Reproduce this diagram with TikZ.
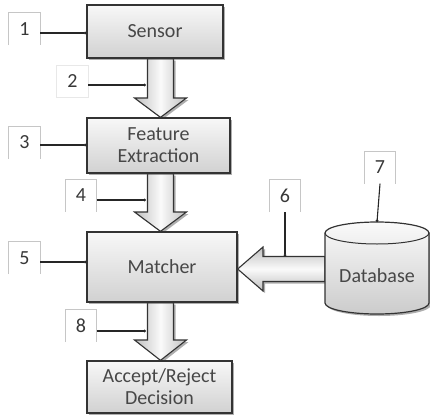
\documentclass[tikz,border=0pt]{standalone}
\usepackage{fontspec}
\setmainfont{Carlito}
\usetikzlibrary{calc,shadows,arrows.meta,backgrounds}

\tikzset{
  bigtext/.style={font=\fontsize{20}{22}\selectfont, text=black!72},
  shade shadow/.style={drop shadow={shadow xshift=2pt, shadow yshift=-2pt, fill=black!70, opacity=0.45}},
  stage/.style={bigtext, draw=black!80, line width=1.3pt, top color=gray!6, bottom color=gray!36,
                shade shadow, align=center, inner sep=0pt},
  vflow/.style={draw=black!80, line width=1.1pt, left color=gray!50, right color=gray!50,
                middle color=gray!4, shade shadow, line join=miter},
  hflow/.style={draw=black!80, line width=1.1pt, top color=gray!50, bottom color=gray!50,
                middle color=gray!4, shade shadow, line join=miter},
  tag/.style={bigtext, minimum width=31pt, minimum height=32pt, inner sep=0pt, text=black!78},
  tagframe/.style={draw=gray!45, line width=0.8pt},
  lead/.style={draw=black!85, line width=1.1pt, -{Circle[length=2.6pt]}},
}

% vertical block arrow: centre x, upper node, lower node, y where the head starts
\newcommand\downflow[4]{%
  \draw[vflow] (#1-13,0 |- #2.south) -- (#1-13,#4) -- (#1-26,#4) -- (#1,0 |- #3.north)
    -- (#1+26,#4) -- (#1+13,#4) -- (#1+13,0 |- #2.south) -- cycle;}

\begin{document}
\begin{tikzpicture}[x=1pt,y=-1pt]
  \useasboundingbox (0,0) rectangle (430,415);

  % process boxes
  \node[stage, minimum width=136pt, minimum height=53pt] (sensor) at (155,31.5) {Sensor};
  \node[stage, minimum width=143pt, minimum height=55pt] (feature) at (158.5,145.5) {Feature\\Extraction};
  \node[stage, minimum width=150pt, minimum height=70pt] (matcher) at (162,267) {Matcher};
  \node[stage, minimum width=145pt, minimum height=52pt] (decision) at (159.5,387) {Accept/Reject\\Decision};

  % database cylinder
  \path[shade shadow, top color=gray!4, bottom color=gray!40]
    (325,233) -- (325,303) arc[start angle=180, end angle=0, x radius=52, y radius=11]
    -- (429,233) arc[start angle=0, end angle=-180, x radius=52, y radius=11] -- cycle;
  \draw[black!80, line width=1.2pt]
    (325,233) -- (325,303) arc[start angle=180, end angle=0, x radius=52, y radius=11]
    -- (429,233) arc[start angle=0, end angle=-180, x radius=52, y radius=11];
  \draw[black!80, line width=1pt] (325,233) arc[start angle=180, end angle=0, x radius=52, y radius=11];
  \node[bigtext] (db) at (377,276) {Database};
  \coordinate (dbtop) at (377,222);
  \coordinate (dbside) at (325,269);

  % block arrows, kept behind the boxes
  \begin{scope}[on background layer]
    \downflow{160.5}{sensor}{feature}{98}
    \downflow{160.5}{feature}{matcher}{212}
    \downflow{160.5}{matcher}{decision}{340}
    \draw[hflow] (dbside |- 0,256.5) -- (263,256.5) -- (263,247) -- (matcher.east |- 0,269) -- (263,291)
      -- (263,281.5) -- (dbside |- 0,281.5) -- cycle;
  \end{scope}
  \coordinate (a6) at (285,256.5);

  % numbered callouts
  \node[tag] (t1) at (24.5,29) {1};
  \node[tag] (t2) at (72.5,81.5) {2};
  \node[tag] (t3) at (24.5,142.5) {3};
  \node[tag] (t4) at (81,195.5) {4};
  \node[tag] (t5) at (24.5,258) {5};
  \node[tag] (t6) at (285,196) {6};
  \node[tag] (t7) at (380,167.5) {7};
  \node[tag] (t8) at (81,326) {8};

  \foreach \t in {t1,t3,t4,t5,t6,t7,t8}
    \draw[tagframe] (\t.south west) |- (\t.north east) -- (\t.south east);
  \draw[tagframe, draw=gray!18] (t2.south west) rectangle (t2.north east);

  \coordinate (e2) at (146,85);
  \coordinate (e4) at (146,200);
  \coordinate (e8) at (146,331);

  \draw[lead] ([yshift=-4pt]t1.east) -- ([yshift=-4pt]t1.east -| sensor.west);
  \draw[lead] ([yshift=-3.5pt]t2.east) -- (e2);
  \draw[lead] ([yshift=-2.5pt]t3.east) -- ([yshift=-2.5pt]t3.east -| feature.west);
  \draw[lead] ([yshift=-4.5pt]t4.east) -- (e4);
  \draw[lead] ([yshift=-4pt]t5.east) -- ([yshift=-4pt]t5.east -| matcher.west);
  \draw[lead] (t6.south) -- (a6);
  \draw[lead] (t7.south) -- (dbtop);
  \draw[lead] ([yshift=-5pt]t8.east) -- (e8);
\end{tikzpicture}
\end{document}
